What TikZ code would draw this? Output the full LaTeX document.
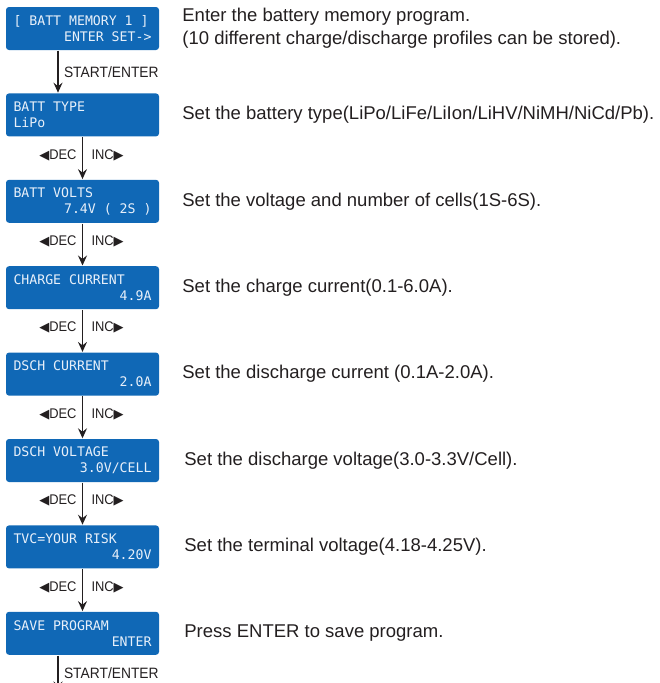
\documentclass[tikz,border=0pt]{standalone}
\usepackage{fontspec}
\setmainfont{Liberation Sans}
\newfontfamily\lcdfont{DejaVu Sans Mono}
\newfontfamily\lblfont{Liberation Sans}[FakeStretch=0.92]
\newfontfamily\symfont{DejaVu Sans}
\usetikzlibrary{arrows.meta,positioning}
\definecolor{lcdblue}{RGB}{16,104,182}
\definecolor{lcdtext}{RGB}{232,240,250}
\definecolor{txtgray}{RGB}{35,31,32}
\newcommand{\lcd}[3][r]{\spaceskip=0.602em\relax
  \makebox[\hsize][l]{#2}\\\makebox[\hsize][#1]{#3}}
\newcommand{\lt}{{\symfont\fontsize{13}{13}\selectfont ◀}}
\newcommand{\rt}{{\symfont\fontsize{13}{13}\selectfont ▶}}

\begin{document}
\begin{tikzpicture}[x=1pt,y=1pt,->,>={Stealth[length=10pt,width=9pt,inset=3.5pt]},
      line width=1.4pt,draw=txtgray,node distance=42pt,
      lcdbox/.style={rectangle,rounded corners=3pt,fill=lcdblue,text=lcdtext,
        minimum width=153pt,minimum height=43pt,text width=138pt,align=left,
        inner sep=0pt,font=\lcdfont\fontsize{13.2}{16}\selectfont},
      desctext/.style={inner sep=0pt,align=left,text=txtgray,
        font=\fontsize{18.5}{23}\selectfont},
      keytext/.style={text=txtgray,font=\lblfont\fontsize{14}{14}\selectfont},
      entertext/.style={text=txtgray,font=\lblfont\fontsize{15}{15}\selectfont}]

    \useasboundingbox (0,0) rectangle (659,-683);

    \node[lcdbox] (b1) at (82.5,-28.5) {\lcd{[ BATT MEMORY 1 ]}{ENTER SET->}};
    \node[lcdbox] (b2) [below=of b1] {\lcd[l]{BATT TYPE}{LiPo}};
    \node[lcdbox] (b3) [below=of b2] {\lcd{BATT VOLTS}{7.4V ( 2S )}};
    \node[lcdbox] (b4) [below=of b3] {\lcd{CHARGE CURRENT}{4.9A}};
    \node[lcdbox] (b5) [below=of b4] {\lcd{DSCH CURRENT}{2.0A}};
    \node[lcdbox] (b6) [below=of b5] {\lcd{DSCH VOLTAGE}{3.0V/CELL}};
    \node[lcdbox] (b7) [below=of b6] {\lcd{TVC=YOUR RISK}{4.20V}};
    \node[lcdbox] (b8) [below=of b7] {\lcd{SAVE PROGRAM}{ENTER}};
    \coordinate[below=36pt of b8.south,xshift=-24.5pt] (end);

    % descriptions
    \node[desctext] (d1) [right=22pt of b1] {Enter the battery memory program.\\(10 different charge/discharge profiles can be stored).};
    \node[desctext] (d2) [right=22pt of b2] {Set the battery type(LiPo/LiFe/LiIon/LiHV/NiMH/NiCd/Pb).};
    \node[desctext] (d3) [right=22pt of b3] {Set the voltage and number of cells(1S-6S).};
    \node[desctext] (d4) [right=22pt of b4] {Set the charge current(0.1-6.0A).};
    \node[desctext] (d5) [right=22pt of b5] {Set the discharge current (0.1A-2.0A).};
    \node[desctext] (d6) [right=24pt of b6] {Set the discharge voltage(3.0-3.3V/Cell).};
    \node[desctext] (d7) [right=24pt of b7] {Set the terminal voltage(4.18-4.25V).};
    \node[desctext] (d8) [right=24pt of b8] {Press ENTER to save program.};

    % arrows
    \draw ([xshift=-24.5pt]b1.south) -- node[entertext,right=2pt] {START/ENTER} ([xshift=-24.5pt]b2.north);
    \draw (b2) -- node[keytext,left=2pt,yshift=3pt] {\lt DEC} node[keytext,right=5pt,yshift=3pt] {INC\rt} (b3);
    \draw (b3) -- node[keytext,left=2pt,yshift=3pt] {\lt DEC} node[keytext,right=5pt,yshift=3pt] {INC\rt} (b4);
    \draw (b4) -- node[keytext,left=2pt,yshift=3pt] {\lt DEC} node[keytext,right=5pt,yshift=3pt] {INC\rt} (b5);
    \draw (b5) -- node[keytext,left=2pt,yshift=3pt] {\lt DEC} node[keytext,right=5pt,yshift=3pt] {INC\rt} (b6);
    \draw (b6) -- node[keytext,left=2pt,yshift=3pt] {\lt DEC} node[keytext,right=5pt,yshift=3pt] {INC\rt} (b7);
    \draw (b7) -- node[keytext,left=2pt,yshift=3pt] {\lt DEC} node[keytext,right=5pt,yshift=3pt] {INC\rt} (b8);
    \draw ([xshift=-24.5pt]b8.south) -- node[entertext,right=2pt] {START/ENTER} (end);
\end{tikzpicture}
\end{document}
